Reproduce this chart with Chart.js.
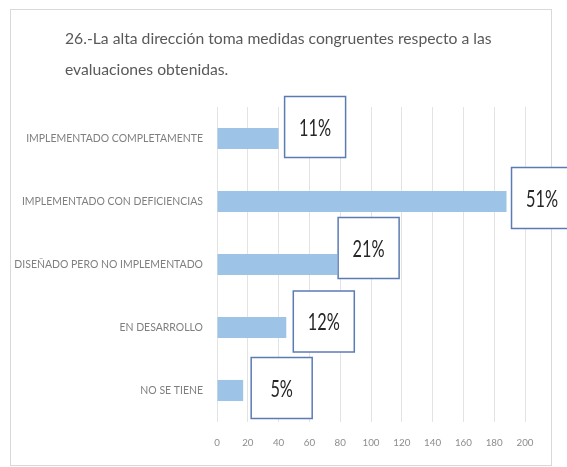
<!DOCTYPE html>
<html>
<head>
<meta charset="utf-8">
<script src="https://cdn.jsdelivr.net/npm/chart.js@4.4.0/dist/chart.umd.min.js"></script>
<style>
  html, body { margin: 0; padding: 0; background: #ffffff; }
  #wrap { position: relative; width: 567px; height: 467px; overflow: hidden; }
  #frame { position: absolute; left: 10px; top: 9px; width: 540px; height: 455px; border: 1px solid #d9d9d9; }
  #chart { position: absolute; left: 0; top: 0; }
</style>
</head>
<body>
<div id="wrap">
  <div id="frame"></div>
  <canvas id="chart" width="567" height="467"></canvas>
</div>
<script>
//--------------------Data-------------------
const titleLines = [
  "26.-La alta dirección toma medidas congruentes respecto a las",
  "evaluaciones obtenidas."
];
const categories = [
  "IMPLEMENTADO COMPLETAMENTE",
  "IMPLEMENTADO CON DEFICIENCIAS",
  "DISEÑADO PERO NO IMPLEMENTADO",
  "EN DESARROLLO",
  "NO SE TIENE"
];
const counts = [40, 188, 78, 45, 17];
const percentLabels = ["11%", "51%", "21%", "12%", "5%"];
const axisMin = 0;
const axisMax = 200;
const axisStep = 20;

// label boxes were dragged by hand in the original, keep their offsets
const boxShiftX = [6, 5, 1, 7, 8];
const boxShiftY = [-11.5, -3.5, -16.5, -6, -2.5];

//--------------------Fonts-------------------
const measureCtx = document.createElement("canvas").getContext("2d");

function fitSize(text, family, target) {
  measureCtx.font = `100px ${family}`;
  return 100 * target / measureCtx.measureText(text).width;
}

const fontFamily = "Lato, sans-serif";
const titleSize = fitSize(titleLines[0], fontFamily, 427);
const catSize = fitSize(categories[0], fontFamily, 177);
const tickSize = fitSize("100", fontFamily, 17);

//--------------------Plugins-------------------
// title starts further right than the category labels
const titleShift = {
  id: "titleShift",
  afterLayout(chart) {
    if (chart.titleBlock) chart.titleBlock.left = 65;
  }
};

const boxLabels = {
  id: "boxLabels",
  afterDatasetsDraw(chart) {
    const ctx = chart.ctx;
    const meta = chart.getDatasetMeta(0);
    const boxW = 61;
    const boxH = 61;

    ctx.save();
    ctx.font = `24px ${fontFamily}`;
    const sx = 32 / ctx.measureText("51%").width;

    meta.data.forEach((bar, i) => {
      const left = bar.x + boxShiftX[i];
      const cy = bar.y + boxShiftY[i];
      const top = cy - boxH / 2;

      ctx.fillStyle = "#ffffff";
      ctx.fillRect(left, top, boxW, boxH);
      ctx.strokeStyle = "#5b7bb4";
      ctx.lineWidth = 1.5;
      ctx.strokeRect(left, top, boxW, boxH);

      ctx.save();
      ctx.translate(left + boxW / 2, cy + 1);
      ctx.scale(sx, 1);
      ctx.fillStyle = "#262626";
      ctx.textAlign = "center";
      ctx.textBaseline = "middle";
      ctx.fillText(percentLabels[i], 0, 0);
      ctx.restore();
    });
    ctx.restore();
  }
};

//--------------------Chart-------------------
const ctx = document.getElementById("chart").getContext("2d");

new Chart(ctx, {
  type: "bar",
  data: {
    labels: categories,
    datasets: [{
      data: counts,
      backgroundColor: "#9dc3e6",
      borderWidth: 0,
      categoryPercentage: 1,
      barPercentage: 0.335
    }]
  },
  options: {
    indexAxis: "y",
    responsive: false,
    animation: false,
    devicePixelRatio: 1,
    layout: {
      padding: { left: 0, right: 42, top: 0, bottom: 0 }
    },
    plugins: {
      legend: { display: false },
      tooltip: { enabled: false },
      title: {
        display: true,
        text: titleLines,
        align: "start",
        color: "#595959",
        font: { family: fontFamily, size: titleSize, weight: "normal", lineHeight: "31px" },
        padding: { top: 23.5, bottom: 21.5 }
      }
    },
    scales: {
      x: {
        min: axisMin,
        max: axisMax,
        afterFit(scale) { scale.height = 45; },
        ticks: {
          stepSize: axisStep,
          color: "#8c8c8c",
          padding: 15,
          font: { family: fontFamily, size: tickSize }
        },
        grid: { color: "#e3e3e3", drawTicks: false },
        border: { display: false }
      },
      y: {
        afterFit(scale) { scale.width = 217; },
        ticks: {
          color: "#7f7f7f",
          padding: 14,
          font: { family: fontFamily, size: catSize }
        },
        grid: { display: false, drawTicks: false },
        border: { display: false }
      }
    }
  },
  plugins: [titleShift, boxLabels]
});
</script>
</body>
</html>
